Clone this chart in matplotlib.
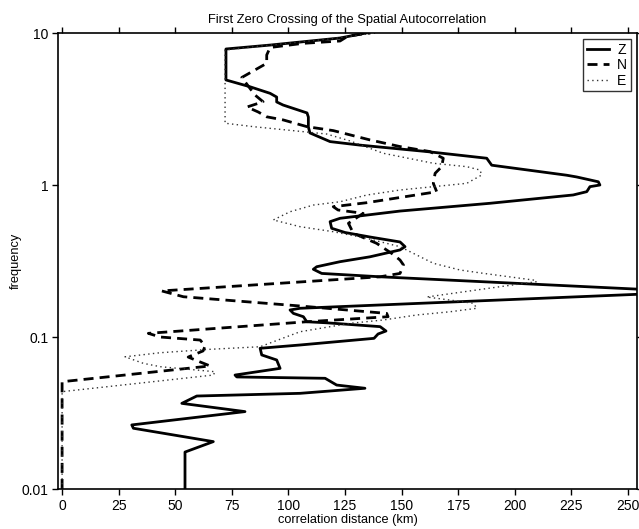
import matplotlib
matplotlib.use("Agg")
import matplotlib.pyplot as plt
from matplotlib.ticker import FixedLocator, FixedFormatter, NullLocator

plt.rcParams['font.family'] = ['Liberation Sans', 'DejaVu Sans']

# Z component (solid): frequency vs first zero crossing distance (km)
z_freq = [0.01, 0.0175, 0.0205, 0.0251, 0.0264, 0.0323, 0.0366, 0.0409, 0.0426,
          0.046, 0.0483, 0.0535, 0.0546, 0.0562, 0.0622, 0.0706, 0.0762, 0.0843,
          0.0886, 0.098, 0.1047, 0.1095, 0.117, 0.124, 0.126, 0.136, 0.143,
          0.1506, 0.1545, 0.198, 0.249, 0.262, 0.279, 0.29, 0.313, 0.337, 0.374,
          0.393, 0.422, 0.455, 0.487, 0.519, 0.574, 0.604, 0.674, 0.758, 0.86,
          0.904, 0.975, 1.0, 1.05, 1.13, 1.16, 1.35, 1.50, 1.66, 1.83, 1.93,
          2.20, 2.41, 2.80, 2.98, 3.36, 3.52, 3.79, 4.01, 4.43, 4.91, 7.85,
          8.33, 8.72, 9.27, 10.0]
z_dist = [54.3, 54.3, 66.8, 31.5, 30.8, 80.8, 52.9, 59.5, 105.1,
          133.8, 121.3, 116.2, 77.2, 76.4, 96.3, 94.8, 88.2, 87.5,
          105.1, 137.8, 139.6, 143.1, 140.5, 116.9, 108.1, 106.6, 102.2,
          100.7, 105.1, 279.6, 140.5, 114.7, 111.0, 112.5, 122.8, 136.0, 149.3,
          151.5, 149.3, 136.0, 125.0, 119.1, 118.4, 122.8, 149.3, 189.0, 225.8,
          231.8, 233.2, 237.6, 236.9, 227.3, 222.9, 189.8, 187.6, 161.1, 131.6, 118.4,
          109.5, 108.8, 108.8, 108.2, 97.6, 94.8, 94.8, 91.9, 83.0, 72.4, 72.4,
          91.9, 105.1, 122.8, 134.3]

# N component (dashed)
n_freq = [0.01, 0.0508, 0.0645, 0.0685, 0.0738, 0.081, 0.0873, 0.0955, 0.100,
          0.1057, 0.126, 0.136, 0.143, 0.160, 0.184, 0.201, 0.249, 0.262,
          0.298, 0.321, 0.355, 0.413, 0.481, 0.560, 0.651, 0.685, 0.720,
          0.765, 0.903, 1.026, 1.194, 1.32, 1.50, 1.66, 1.79, 1.98, 2.28,
          2.42, 2.68, 2.81, 3.02, 3.26, 3.53, 3.91, 5.10, 6.32, 7.17, 8.03,
          8.55, 8.86, 9.55, 10.0]
n_dist = [0.0, 0.0, 65.4, 61.0, 55.7, 62.3, 63.2, 61.0, 43.3,
          38.1, 108.1, 144.0, 143.4, 105.1, 53.6, 44.0, 140.5, 149.3,
          150.8, 149.3, 145.6, 139.0, 128.7, 126.5, 133.0, 121.9, 119.8,
          134.6, 165.5, 164.0, 164.8, 167.7, 168.4, 162.5, 149.3, 136.0, 119.8,
          108.2, 97.7, 90.4, 86.7, 81.7, 88.8, 85.2, 79.4, 90.4, 90.4, 91.9,
          106.4, 122.8, 126.3, 136.0]

# E component (dotted)
e_freq = [0.01, 0.0437, 0.0562, 0.0591, 0.0638, 0.0671, 0.0741, 0.0788, 0.0830,
          0.0863, 0.1083, 0.123, 0.1294, 0.1396, 0.1466, 0.1545, 0.1667, 0.175,
          0.1833, 0.2143, 0.2312, 0.237, 0.2624, 0.276, 0.3055, 0.3927, 0.4457,
          0.493, 0.532, 0.589, 0.667, 0.738, 0.776, 0.859, 0.927, 0.975, 1.026,
          1.164, 1.255, 1.32, 1.39, 1.617, 1.95, 2.165, 2.42, 2.55, 7.73, 8.21,
          8.72, 9.15, 10.0]
e_dist = [0.0, 0.0, 66.8, 67.6, 43.3, 35.9, 27.8, 43.3, 65.4,
          87.5, 105.1, 127.2, 141.9, 156.7, 171.4, 183.2, 181.7, 171.4,
          161.1, 193.5, 209.7, 208.2, 186.1, 175.8, 164.0, 149.3, 134.6,
          119.8, 105.1, 93.3, 100.7, 111.0, 122.8, 134.6, 149.3, 164.0, 178.8,
          185.4, 184.6, 178.8, 164.0, 141.9, 127.2, 116.9, 84.5, 72.0, 72.0, 87.5,
          105.1, 118.4, 138.3]

x_ticks = [0, 25, 50, 75, 100, 125, 150, 175, 200, 225, 250]
y_ticks = [0.01, 0.1, 1, 10]
y_labels = ["0.01", "0.1", "1", "10"]

fig = plt.figure(figsize=(6.39, 5.29), dpi=100)
ax = fig.add_axes([0.0908, 0.0756, 0.9061, 0.862])

ax.plot(z_dist, z_freq, color='black', lw=2.0, solid_joinstyle='round', label='Z')
ax.plot(n_dist, n_freq, color='black', lw=2.0, dashes=(3.6, 2.2), label='N')
ax.plot(e_dist, e_freq, color='#333333', lw=1.0, dashes=(1, 2.4), label='E')

ax.set_yscale('log')
ax.set_xlim(-1.8, 254)
ax.set_ylim(0.01, 10)
ax.xaxis.set_major_locator(FixedLocator(x_ticks))
ax.yaxis.set_major_locator(FixedLocator(y_ticks))
ax.yaxis.set_major_formatter(FixedFormatter(y_labels))
ax.yaxis.set_minor_locator(NullLocator())
ax.tick_params(axis='both', direction='out', length=4, width=1, labelsize=10,
               top=True, right=True, pad=3)
for s in ax.spines.values():
    s.set_linewidth(1.2)

ax.set_title("First Zero Crossing of the Spatial Autocorrelation", fontsize=9.3, pad=7)
ax.set_xlabel("correlation distance (km)", fontsize=9.2, labelpad=1)
ax.set_ylabel("frequency", fontsize=9.2, labelpad=0)

leg = ax.legend(loc='upper right', fontsize=10, frameon=True, fancybox=False,
                edgecolor='black', handlelength=1.6, handletextpad=0.6,
                borderpad=0.25, labelspacing=0.1, borderaxespad=0.45)
leg.get_frame().set_linewidth(1.0)

fig.savefig("out.png", dpi=100)
